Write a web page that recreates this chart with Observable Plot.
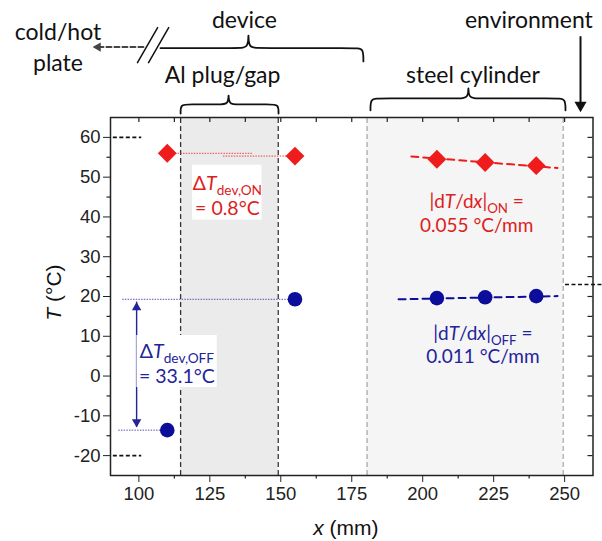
<!DOCTYPE html>
<html><head><meta charset="utf-8">
<script src="https://cdn.jsdelivr.net/npm/d3@7"></script>
<script src="https://cdn.jsdelivr.net/npm/@observablehq/plot@0.6"></script>
<style>
body{margin:0;background:#fff}
g[aria-label^="x-axis"], g[aria-label^="y-axis"],
g[aria-label^="x-axis"] text, g[aria-label^="y-axis"] text {font-size:18.5px !important; font-family:"Liberation Sans" !important;}
</style>
</head><body><div id="chart"></div>
<script>
// ---------- data ----------
const positions = [110, 155, 205, 222, 240];          // x (mm)
const tempOn  = [56.0, 55.3, 54.5, 53.7, 52.9];       // °C, device ON
const tempOff = [-13.6, 19.3, 19.6, 19.8, 20.1];      // °C, device OFF
const fitOnX  = [196, 247.5];  const fitOnT  = [55.2, 52.3];
const fitOffX = [191.5, 247.5]; const fitOffT = [19.3, 20.1];
const regionNames = ["Al plug/gap", "steel cylinder"];
const regionStart = [114.7, 180.4];
const regionEnd   = [149.1, 249.5];
const plateTemps = [60, -20];
const envTemp = [23];
const xTicks = [100, 125, 150, 175, 200, 225, 250];
const yTicks = [-20, -10, 0, 10, 20, 30, 40, 50, 60];
const xMinor = [112.5, 137.5, 162.5, 187.5, 212.5, 237.5];
const yMinor = [-15, -5, 5, 15, 25, 35, 45, 55];
const labelOn  = ["Δ*T*_{dev,ON}\n= 0.8°C", "|d*T*/d*x*|_{ON} =\n0.055 °C/mm"];
const labelOff = ["Δ*T*_{dev,OFF}\n= 33.1°C", "|d*T*/d*x*|_{OFF} =\n0.011 °C/mm"];

// ---------- layout ----------
const W = 602, H = 541, mL = 110, mR = 9.5, mT = 117, mB = 66;
const xDom = [90, 260], yDom = [-25, 65];
const kx = (W - mL - mR) / (xDom[1] - xDom[0]);   // px per mm
const ky = (H - mT - mB) / (yDom[1] - yDom[0]);   // px per °C
const RED = "#ee1c1c", REDT = "#dd2020", NAVY = "#0d0d9c", NAVYT = "#23239a";
const TXT = "Lato";

const onData = positions.map((x, i) => ({x, T: tempOn[i]}));
const offData = positions.map((x, i) => ({x, T: tempOff[i]}));
const fitOn = fitOnX.map((x, i) => ({x, T: fitOnT[i]}));
const fitOff = fitOffX.map((x, i) => ({x, T: fitOffT[i]}));
const regions = regionNames.map((name, i) => ({name, x1: regionStart[i], x2: regionEnd[i]}));

// braces (annotation shapes above the frame)
function brace(x0, x1, tip, yLine, yTip, yEnd0, yEnd1, r) {
  const yt = yLine + 1.5 * (yTip - yLine);
  return [
    [x0, yEnd0], [x0, yLine], [x0 + r, yLine],
    [tip - r, yLine], [tip, yLine], [tip, yt], [tip, yLine], [tip + r, yLine],
    [x1 - r, yLine], [x1, yLine], [x1, yEnd1]
  ].map(([x, T]) => ({x, T}));
}
const braces = [
  brace(107.6, 179.1, 138.6, 82.45, 85.6, 82.45, 79.1, 2.8),
  brace(114.7, 149.2, 131.6, 68.3, 70.5, 66.0, 66.0, 2.8),
  brace(181.6, 250.3, 216.1, 69.8, 72.3, 66.8, 66.8, 2.8)
];

const topTicks = d3.range(100, 250.1, 12.5);
const rightTicks = d3.range(-20, 60.1, 5);

const chart = Plot.plot({
  width: W, height: H,
  marginLeft: mL, marginRight: mR, marginTop: mT, marginBottom: mB,
  style: {fontFamily: "Liberation Sans", fontSize: "18.5px", color: "#222", background: "#fff"},
  x: {domain: xDom, ticks: xTicks, tickSize: 7, tickPadding: 4, tickFormat: d => String(d), label: null},
  y: {domain: yDom, ticks: yTicks, tickSize: 7, tickPadding: 3, tickFormat: d => String(d), label: null},
  marks: [
    // shaded regions
    Plot.rect(regions, {x1: "x1", x2: "x2", y1: yDom[0], y2: yDom[1], fill: (d, i) => i === 0 ? "#ebebeb" : "#f5f5f5"}),
    Plot.ruleX([regions[0].x1, regions[0].x2], {y1: yDom[0], y2: yDom[1], stroke: "#333", strokeWidth: 1.3, strokeDasharray: "5,3"}),
    Plot.ruleX([regions[1].x1, regions[1].x2], {y1: yDom[0], y2: yDom[1], stroke: "#aaa", strokeWidth: 1.3, strokeDasharray: "5,3"}),
    // frame and minor/inner ticks
    Plot.frame({stroke: "#222", strokeWidth: 1.5}),
    Plot.ruleX(xMinor, {y1: yDom[0], y2: yDom[0] - 3.5 / ky, stroke: "#222", strokeWidth: 1.2}),
    Plot.ruleY(yMinor, {x1: xDom[0], x2: xDom[0] - 3.5 / kx, stroke: "#222", strokeWidth: 1.2}),
    Plot.ruleX(topTicks, {y1: yDom[1], y2: yDom[1] - 5 / ky, stroke: "#222", strokeWidth: 1.2}),
    Plot.ruleY(rightTicks, {x1: xDom[1], x2: xDom[1] - 5 / kx, stroke: "#222", strokeWidth: 1.2}),
    // plate / environment temperatures
    Plot.ruleY(plateTemps, {y: d => d, x1: 91, x2: 101, stroke: "#111", strokeWidth: 1.6, strokeDasharray: "4,2.5"}),
    Plot.ruleY(envTemp, {y: d => d, x1: 250.3, x2: 263.5, stroke: "#111", strokeWidth: 1.6, strokeDasharray: "4,2.5"}),
    // dotted reference lines
    Plot.ruleY([tempOn[0]], {y: d => d, x1: positions[0], x2: 140.3, stroke: "#e33", strokeWidth: 0.9, strokeDasharray: "1.5,1.2"}),
    Plot.ruleY([tempOn[1]], {y: d => d, x1: 129.8, x2: positions[1], stroke: "#e33", strokeWidth: 0.9, strokeDasharray: "1.5,1.2"}),
    Plot.ruleY([tempOff[1]], {y: d => d, x1: 94.3, x2: positions[1], stroke: "#44a", strokeWidth: 0.9, strokeDasharray: "1.5,1.2"}),
    Plot.ruleY([tempOff[0]], {y: d => d, x1: 92.9, x2: positions[0], stroke: "#44a", strokeWidth: 0.9, strokeDasharray: "1.5,1.2"}),
    // ΔT_dev,OFF double arrow
    Plot.ruleX([99.2], {x: d => d, y1: tempOff[1] - 0.7, y2: tempOff[0] + 0.7, stroke: NAVYT, strokeWidth: 1.4}),
    Plot.dot([{x: 99.2, T: tempOff[1] - 0.7}], {x: "x", y: "T", symbol: "triangle", r: 3.5, fill: NAVYT, dy: 5.4}),
    Plot.dot([{x: 99.2, T: tempOff[0] + 0.7}], {x: "x", y: "T", symbol: "triangle", r: 3.5, fill: NAVYT, rotate: 180, dy: -5.4}),
    // white label boxes
    Plot.rect([0], {x1: 118.9, x2: 143.4, y1: 39.2, y2: 53.0, fill: "#fff"}),
    Plot.rect([0], {x1: 99.3, x2: 127.6, y1: -2.9, y2: 10.2, fill: "#fff"}),
    // labels inside the plot
    Plot.text([labelOn[0]], {x: 131.2, y: 45.6, text: d => d, fill: REDT, fontFamily: TXT, fontSize: 19.5, lineHeight: 1.28}),
    Plot.text([labelOn[1]], {x: 219, y: 41.2, text: d => d, fill: REDT, fontFamily: TXT, fontSize: 19, lineHeight: 1.25}),
    Plot.text([labelOff[0]], {x: 113.4, y: 3.4, text: d => d, fill: NAVYT, fontFamily: TXT, fontSize: 19.5, lineHeight: 1.28}),
    Plot.text([labelOff[1]], {x: 221.2, y: 8.1, text: d => d, fill: NAVYT, fontFamily: TXT, fontSize: 19, lineHeight: 1.25}),
    // fits
    Plot.line(fitOn, {x: "x", y: "T", stroke: RED, strokeWidth: 2, strokeDasharray: "7,5"}),
    Plot.line(fitOff, {x: "x", y: "T", stroke: NAVY, strokeWidth: 2, strokeDasharray: "7,5"}),
    // measurements
    Plot.dot(onData, {x: "x", y: "T", symbol: "diamond2", r: 8.5, fill: RED}),
    Plot.dot(offData, {x: "x", y: "T", symbol: "circle", r: 7.3, fill: NAVY}),
    // axis titles
    Plot.text(["*T* (°C)"], {x: 70.3, y: 21.0, text: d => d, rotate: -90, fontSize: 21, fill: "#111"}),
    Plot.text(["*x* (mm)"], {x: 172.9, y: -38.3, text: d => d, fontSize: 21, fill: "#111"}),
    // annotations above the frame
    ...braces.map(b => Plot.line(b, {x: "x", y: "T", curve: "basis", stroke: "#111", strokeWidth: 1.8})),
    Plot.line([{x: 101.6, T: 82.7}, {x: 85.5, T: 82.7}], {x: "x", y: "T", stroke: "#444", strokeWidth: 2, strokeDasharray: "5,3"}),
    Plot.dot([{x: 83.7, T: 82.7}], {x: "x", y: "T", symbol: "triangle", r: 3.5, fill: "#444", rotate: -90, dx: 5.4}),
    Plot.line([{x: 99.5, T: 78.8}, {x: 106.6, T: 87.6}], {x: "x", y: "T", stroke: "#111", strokeWidth: 1.5}),
    Plot.line([{x: 103.4, T: 78.8}, {x: 110.5, T: 87.6}], {x: "x", y: "T", stroke: "#111", strokeWidth: 1.5}),
    Plot.ruleX([255.6], {x: d => d, y1: 85.3, y2: 68.5, stroke: "#111", strokeWidth: 2}),
    Plot.dot([{x: 255.6, T: 66.3}], {x: "x", y: "T", symbol: "triangle", r: 4.5, fill: "#111", rotate: 180, dy: -7}),
    Plot.text(["cold/hot\nplate"], {x: 71.5, y: 83.0, text: d => d, fontFamily: TXT, fontSize: 23, fill: "#111", lineHeight: 1.35}),
    Plot.text(["device"], {x: 137.2, y: 89.4, text: d => d, fontFamily: TXT, fontSize: 23, fill: "#111"}),
    Plot.text(["environment"], {x: 237.4, y: 89.4, text: d => d, fontFamily: TXT, fontSize: 23, fill: "#111"}),
    Plot.text(regions, {x: d => d.name === regionNames[0] ? 129.5 : 217.7, y: 75.6, text: "name", fontFamily: TXT, fontSize: 23, fill: "#111"})
  ]
});

// rich text: *italic* and _{subscript}
function rich(s) {
  return s.replace(/\*([^*]+)\*/g, '<tspan font-style="italic">$1</tspan>')
          .replace(/_\{([^}]+)\}/g, '<tspan baseline-shift="-5" font-size="0.7em">$1</tspan>');
}
chart.querySelectorAll("text").forEach(t => {
  const spans = t.querySelectorAll("tspan");
  const nodes = spans.length ? Array.from(spans) : [t];
  nodes.forEach(n => {
    const s = n.textContent;
    if (s.includes("*") || s.includes("_{")) n.innerHTML = rich(s);
  });
});
document.getElementById("chart").appendChild(chart);
</script>
</body></html>
